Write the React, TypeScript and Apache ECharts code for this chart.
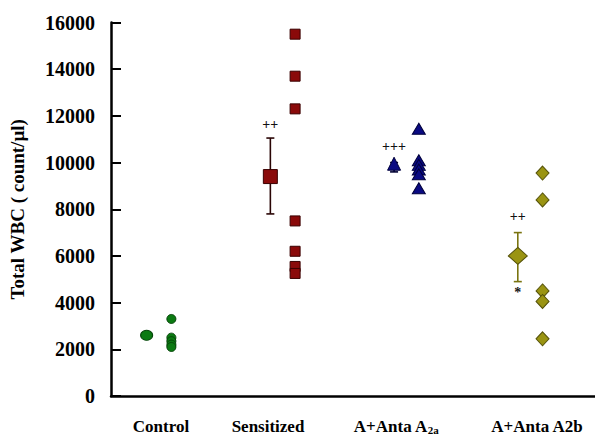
import React, { useEffect, useRef } from "react";
import * as echarts from "echarts";

const categories = ["Control", "Sensitized", "A+Anta A{sub|2a}", "A+Anta A2b"];
const yTicks = [0, 2000, 4000, 6000, 8000, 10000, 12000, 14000, 16000];

const controlValues = [3300, 2500, 2350, 2200, 2100];
const sensitizedValues = [15500, 13700, 12300, 7500, 6200, 5550, 5250];
const a2aValues = [11450, 10100, 9900, 9700, 9500, 8900];
const a2bValues = [9550, 8400, 4500, 4050, 2450];

const groupMeans = [2600, 9400, 9950, 6000];
const groupLow = [2500, 7800, 9600, 4900];
const groupHigh = [2700, 11050, 10000, 7000];

const annotationGroups = [2, 3, 4, 4];
const annotationValues = [11650, 10680, 7680, 4450];
const annotationTexts = ["++", "+++", "++", "*"];

const colors = ["#0b7a12", "#8a0a0a", "#0a0a82", "#9a9412"];
const strokes = ["#06450a", "#3a0000", "#00003c", "#55520a"];
const pointSymbols = ["circle", "rect", "triangle", "diamond"];
const pointSizes: any[] = [[9, 9], [10, 10], [13, 11], [13, 14]];
const meanSizes: any[] = [[12, 10], [14, 14], [13, 13], [19, 17]];
const labelX = [161, 268, 396, 537];

export default function App() {
  const ref = useRef<HTMLDivElement>(null);
  useEffect(() => {
    document.body.style.margin = "0";
    const chart = echarts.init(ref.current!, null, { renderer: "svg" });
    const groups = [controlValues, sensitizedValues, a2aValues, a2bValues];
    const series: any[] = [];

    series.push({
      type: "custom",
      z: 2,
      renderItem: (params: any, api: any) => {
        const x = api.value(0);
        const lo = api.coord([x, api.value(1)]);
        const hi = api.coord([x, api.value(2)]);
        const c = api.value(3) === 1 ? "#2a0505" : api.value(3) === 3 ? "#7a7410" : "#000033";
        const w = 4;
        const st = { stroke: c, lineWidth: 1.6 };
        return {
          type: "group",
          children: [
            { type: "line", shape: { x1: lo[0], y1: lo[1], x2: hi[0], y2: hi[1] }, style: st },
            { type: "line", shape: { x1: lo[0] - w, y1: lo[1], x2: lo[0] + w, y2: lo[1] }, style: st },
            { type: "line", shape: { x1: hi[0] - w, y1: hi[1], x2: hi[0] + w, y2: hi[1] }, style: st },
          ],
        };
      },
      data: groupMeans.map((m, i) => [i + 1, groupLow[i], groupHigh[i], i]),
    });

    groups.forEach((vals, i) => {
      series.push({
        type: "scatter",
        z: 3,
        symbol: pointSymbols[i],
        symbolSize: pointSizes[i],
        itemStyle: { color: colors[i], borderColor: strokes[i], borderWidth: 1, opacity: 1 },
        data: vals.map((v) => [i + 1.2, v]),
      });
      series.push({
        type: "scatter",
        z: 4,
        symbol: pointSymbols[i],
        symbolSize: meanSizes[i],
        itemStyle: { color: colors[i], borderColor: strokes[i], borderWidth: 1, opacity: 1 },
        data: [[i + 1, groupMeans[i]]],
      });
    });

    series.push({
      type: "custom",
      z: 5,
      renderItem: (params: any, api: any) => {
        const p = api.coord([api.value(0), api.value(1)]);
        return {
          type: "text",
          x: p[0],
          y: p[1],
          style: {
            text: annotationTexts[params.dataIndex],
            align: "center",
            verticalAlign: "middle",
            fill: "#111",
            font: "bold 14px 'Liberation Serif'",
          },
        };
      },
      data: annotationGroups.map((g, i) => [g, annotationValues[i]]),
    });

    chart.setOption({
      animation: false,
      backgroundColor: "#fff",
      grid: { left: 106, right: 0, top: 22.5, bottom: 43, containLabel: false },
      xAxis: {
        type: "value",
        min: 0.712,
        max: 4.624,
        axisLine: { show: true, lineStyle: { color: "#000", width: 2.5 } },
        axisTick: { show: false },
        axisLabel: { show: false },
        splitLine: { show: false },
      },
      yAxis: {
        type: "value",
        min: 0,
        max: 16000,
        interval: 2000,
        name: "Total WBC ( count/µl)",
        nameLocation: "middle",
        nameRotate: 90,
        nameGap: 84,
        nameTextStyle: { fontFamily: "Liberation Serif", fontWeight: "bold", fontSize: 19, color: "#000" },
        axisLine: { show: true, lineStyle: { color: "#000", width: 2.5 } },
        axisTick: { show: true, inside: true, length: 10, lineStyle: { color: "#000", width: 2 } },
        axisLabel: {
          margin: 16,
          fontFamily: "Liberation Serif",
          fontWeight: "bold",
          fontSize: 20,
          color: "#000",
          formatter: (v: number) => (yTicks.includes(v) ? String(v) : ""),
        },
        splitLine: { show: false },
      },
      graphic: categories.map((c, i) => ({
        type: "text",
        x: labelX[i],
        y: 426,
        style: {
          text: c,
          align: "center",
          verticalAlign: "middle",
          fontFamily: "Liberation Serif",
          fontWeight: "bold",
          fontSize: 17,
          fill: "#000",
          rich: {
            sub: { fontFamily: "Liberation Serif", fontWeight: "bold", fontSize: 11, verticalAlign: "bottom", padding: [8, 0, 0, 0] },
          },
        },
      })),
      series,
    });
    return () => chart.dispose();
  }, []);
  return <div ref={ref} style={{ width: 595, height: 439 }} />;
}
